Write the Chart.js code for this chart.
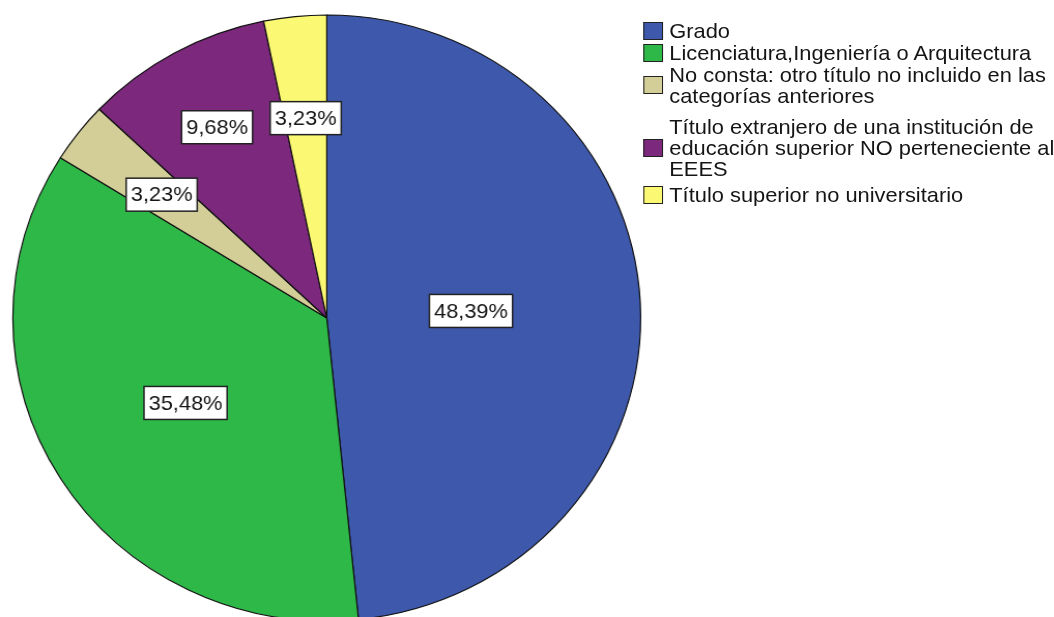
<!DOCTYPE html>
<html>
<head>
<meta charset="utf-8">
<script src="https://cdn.jsdelivr.net/npm/chart.js@4/dist/chart.umd.min.js"></script>
<style>
  html, body { margin: 0; padding: 0; background: #fff; overflow: hidden; }
  body { width: 1054px; height: 617px; position: relative; }
  /* la imagen original está algo estirada en horizontal */
  #wrap { position: absolute; left: 0; top: 0; width: 1017px; height: 640px;
          transform: scaleX(1.036); transform-origin: 0 0; }
  #chart-box { position: absolute; left: 0; top: 0; width: 640px; height: 640px; }
  #legend { position: absolute; left: 621px; top: 20px; width: 420px; margin: 0; padding: 0; list-style: none;
            white-space: nowrap;
            font-family: "Liberation Sans", Arial, sans-serif; font-size: 21.1px; line-height: 21px; color: #151515; }
  #legend li { display: flex; align-items: center; }
  #legend .box { width: 17px; height: 16px; border: 1px solid #222; margin-right: 6px; flex: none; }
</style>
</head>
<body>
<div id="wrap">
  <div id="chart-box"><canvas id="pie"></canvas></div>
  <ul id="legend"></ul>
</div>
<script>
// Categorías (cada una partida en las líneas de la leyenda)
const categoryLines = [
    ['Grado'],
    ['Licenciatura,Ingeniería o Arquitectura'],
    ['No consta: otro título no incluido en las', 'categorías anteriores'],
    ['Título extranjero de una institución de', 'educación superior NO perteneciente al', 'EEES'],
    ['Título superior no universitario']
];
// Frecuencias (31 casos)
const counts = [15, 11, 1, 3, 1];
const colors = ['#3E58AC', '#2EB848', '#D3CE97', '#7C287D', '#FBF873'];

const categories = categoryLines.map(lines => lines.join(' '));
const total = counts.reduce((a, b) => a + b, 0);
const percentLabels = counts.map(c => (c / total * 100).toFixed(2).replace('.', ',') + '%');

// Distancia de cada etiqueta al centro (fracción del radio)
const labelRadius = [0.46, 0.53, 0.665, 0.72, 0.663];
// Separación bajo cada elemento de la leyenda (px)
const legendGaps = [1, 1, 10, 5, 0];

// Leyenda en HTML
const legend = document.getElementById('legend');
categoryLines.forEach((lines, i) => {
    const li = document.createElement('li');
    li.style.marginBottom = legendGaps[i] + 'px';
    li.innerHTML = `<span class="box" style="background:${colors[i]}"></span><span>${lines.join('<br>')}</span>`;
    legend.appendChild(li);
});

// Etiquetas con caja blanca dentro de cada sector
const boxLabels = {
    id: 'boxLabels',
    afterDatasetsDraw(chart) {
        const ctx = chart.ctx;
        const arcs = chart.getDatasetMeta(0).data;
        ctx.save();
        ctx.font = '21px "Liberation Sans", Arial, sans-serif';
        ctx.textAlign = 'center';
        ctx.textBaseline = 'middle';
        arcs.forEach((arc, i) => {
            const mid = (arc.startAngle + arc.endAngle) / 2;
            const r = arc.outerRadius * labelRadius[i];
            const x = arc.x + Math.cos(mid) * r;
            const y = arc.y + Math.sin(mid) * r;
            const text = percentLabels[i];
            const w = ctx.measureText(text).width + 9;
            const h = 33;
            ctx.fillStyle = '#fff';
            ctx.fillRect(x - w / 2, y - h / 2, w, h);
            ctx.strokeStyle = '#222';
            ctx.lineWidth = 1.5;
            ctx.strokeRect(x - w / 2, y - h / 2, w, h);
            ctx.fillStyle = '#151515';
            ctx.fillText(text, x, y + 1);
        });
        ctx.restore();
    }
};

new Chart(document.getElementById('pie'), {
    type: 'pie',
    data: {
        labels: categories,
        datasets: [{
            data: counts,
            backgroundColor: colors,
            borderColor: '#111',
            borderWidth: 1.2,
            hoverOffset: 0,
            radius: 303
        }]
    },
    options: {
        responsive: true,
        maintainAspectRatio: false,
        animation: false,
        layout: { padding: { left: 12.4, top: 15, right: 21.6, bottom: 19 } },
        plugins: {
            legend: { display: false },
            tooltip: { enabled: false }
        }
    },
    plugins: [boxLabels]
});
</script>
</body>
</html>
